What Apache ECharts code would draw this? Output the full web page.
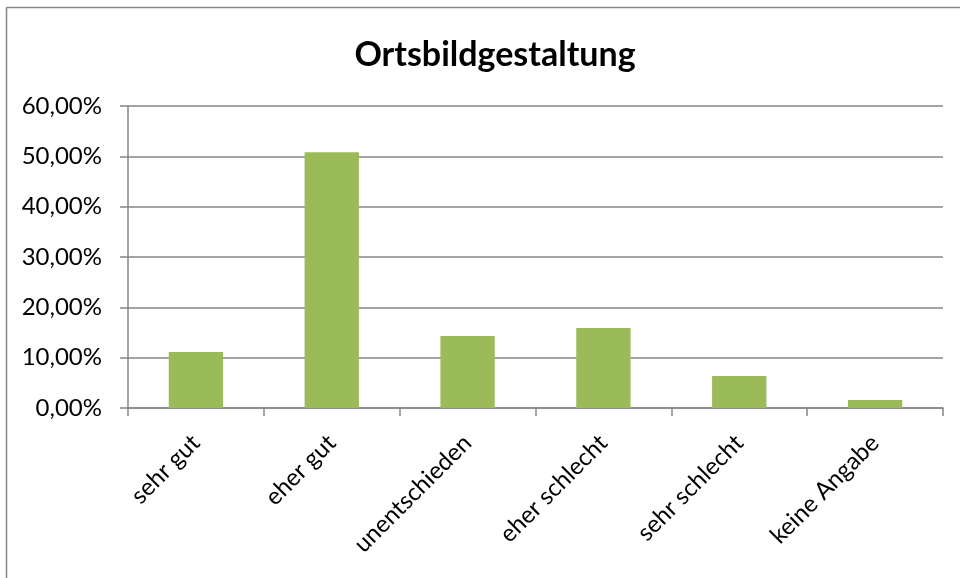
<!DOCTYPE html>
<html>
<head>
<meta charset="utf-8">
<script src="https://cdn.jsdelivr.net/npm/echarts@6/dist/echarts.min.js"></script>
<style>
    html, body { margin: 0; padding: 0; background: #fff; }
    #chart { width: 960px; height: 578px; }
</style>
</head>
<body>
<div id="chart"></div>
<script>
// Antworten (Anteil in %)
const categories = ["sehr gut", "eher gut", "unentschieden", "eher schlecht", "sehr schlecht", "keine Angabe"];
const shares = [11.11, 50.79, 14.29, 15.87, 6.35, 1.59];
const yTicks = [0, 10, 20, 30, 40, 50, 60];

const fontFamily = "Lato, 'Open Sans', sans-serif";

let chart = echarts.init(document.getElementById("chart"));
const option = {
    animation: false,
    backgroundColor: "#fff",
    title: {
        text: "Ortsbildgestaltung",
        left: 490,
        textAlign: "center",
        top: 33,
        textStyle: { fontFamily: fontFamily, fontSize: 34, fontWeight: "bold", color: "#000" },
    },
    grid: { left: 128, right: 17, top: 106, bottom: 170 },
    xAxis: {
        type: "category",
        data: categories,
        axisLine: { lineStyle: { color: "#868686", width: 1.5 } },
        axisTick: { show: true, length: 8, lineStyle: { color: "#868686", width: 1.5 } },
        axisLabel: {
            rotate: 45,
            margin: 31,
            color: "#000",
            fontFamily: fontFamily,
            fontSize: 24,
        },
    },
    yAxis: {
        type: "value",
        min: yTicks[0],
        max: yTicks[yTicks.length - 1],
        interval: 10,
        axisLine: { show: true, lineStyle: { color: "#868686", width: 1.5 } },
        axisTick: { show: true, length: 8, lineStyle: { color: "#868686", width: 1.5 } },
        splitLine: { lineStyle: { color: "#868686", width: 1.5 } },
        axisLabel: {
            margin: 26,
            color: "#000",
            fontFamily: fontFamily,
            fontSize: 24,
            formatter: (v) => v.toFixed(2).replace(".", ",") + "%",
        },
    },
    series: [
        {
            type: "bar",
            data: shares,
            barWidth: "40%",
            itemStyle: { color: "#9BBB59" },
        },
    ],
    graphic: [
        // Rahmen (nur oben und links sichtbar)
        { type: "line", shape: { x1: 6.5, y1: 7.5, x2: 960, y2: 7.5 }, style: { stroke: "#868686", lineWidth: 1.5 } },
        { type: "line", shape: { x1: 6.5, y1: 7.5, x2: 6.5, y2: 578 }, style: { stroke: "#868686", lineWidth: 1.5 } },
    ],
};
chart.setOption(option);
</script>
</body>
</html>
